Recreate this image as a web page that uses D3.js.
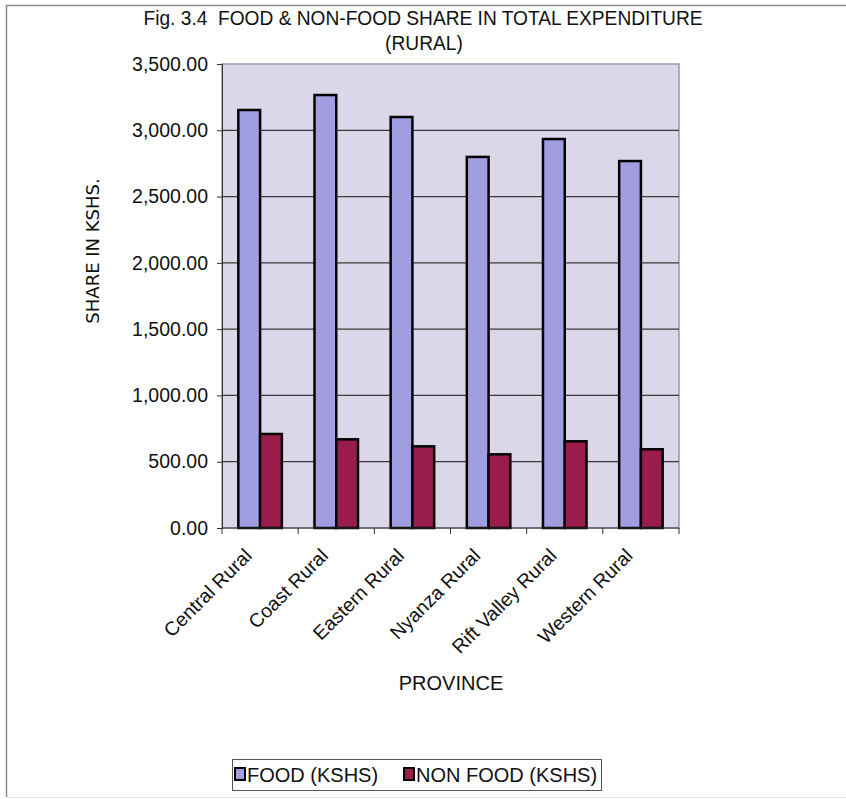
<!DOCTYPE html>
<html><head><meta charset="utf-8">
<script src="https://cdn.jsdelivr.net/npm/d3@7"></script>
<style>body{margin:0;background:#fff}svg{display:block}</style>
</head><body>
<script>
const categories = ["Central Rural","Coast Rural","Eastern Rural","Nyanza Rural","Rift Valley Rural","Western Rural"];
const seriesNames = ["FOOD (KSHS)","NON FOOD (KSHS)"];
const food = [3153, 3266, 3100, 2799, 2934, 2768];
const nonFood = [709, 669, 616, 556, 654, 594];
const yTicks = [0,500,1000,1500,2000,2500,3000,3500];
const colors = ["#a09ee1","#9a1c4c"];

const W=846,H=799;
const svg=d3.select("body").append("svg").attr("width",W).attr("height",H);
svg.append("rect").attr("width",W).attr("height",H).attr("fill","#fff");
// frame
svg.append("path").attr("d","M6.5,797 L6.5,5.5 L846,5.5").attr("fill","none").attr("stroke","#8a8a8a").attr("stroke-width",1.5);
svg.append("line").attr("x1",6).attr("x2",846).attr("y1",797.5).attr("y2",797.5).attr("stroke","#e4e4e4");

const m={l:222,r:679,t:64,b:528};
const x=d3.scaleBand().domain(categories).range([m.l,m.r]).paddingInner(0).paddingOuter(0);
const y=d3.scaleLinear().domain([0,3500]).range([m.b,m.t]);
const bw = x.bandwidth()/3.5;
const x1=d3.scaleBand().domain(seriesNames).range([0.75*bw,2.75*bw]);

svg.append("rect").attr("x",m.l).attr("y",m.t).attr("width",m.r-m.l).attr("height",m.b-m.t)
  .attr("fill","#dbd7e8").attr("stroke","#9a96b8").attr("stroke-width",1.5);

// grid
svg.append("g").selectAll("line").data(yTicks.filter(d=>d>0&&d<3500)).join("line")
  .attr("x1",m.l).attr("x2",m.r).attr("y1",d=>y(d)).attr("y2",d=>y(d))
  .attr("stroke","#3a3a3a").attr("stroke-width",1.2);

// bars
const data = categories.map((c,i)=>({c, vals:[food[i],nonFood[i]]}));
const g=svg.append("g");
data.forEach(d=>{
  d.vals.forEach((v,j)=>{
    g.append("rect").attr("x",x(d.c)+x1(seriesNames[j])).attr("y",y(v))
     .attr("width",x1.bandwidth()).attr("height",y(0)-y(v))
     .attr("fill",colors[j]).attr("stroke","#000").attr("stroke-width",2.5);
  });
});

const sans="Liberation Sans, Arial, sans-serif";
// y axis
const ya=d3.axisLeft(y).tickValues(yTicks).tickSize(5).tickFormat(d3.format(",.2f"));
const yg=svg.append("g").attr("transform",`translate(${m.l},0)`).call(ya);
yg.attr("font-size",null).attr("font-family",null);
yg.select(".domain").attr("stroke","#333");
yg.selectAll(".tick line").attr("stroke","#333");
yg.selectAll("text").attr("font-family",sans).attr("font-size",19.5).attr("fill","#111").attr("x",-14);

// x axis
const xg=svg.append("g").attr("transform",`translate(0,${m.b})`);
xg.append("line").attr("x1",m.l).attr("x2",m.r).attr("stroke","#333");
xg.selectAll("line.tk").data(categories.concat(["__end"])).join("line").attr("class","tk")
  .attr("x1",(d,i)=>m.l+i*x.bandwidth()).attr("x2",(d,i)=>m.l+i*x.bandwidth())
  .attr("y1",0).attr("y2",6).attr("stroke","#333");

svg.append("g").selectAll("text").data(categories).join("text")
  .attr("transform",d=>`translate(${x(d)+x.bandwidth()/2-7},${m.b+29}) rotate(-45)`)
  .attr("text-anchor","end")
  .attr("font-family",sans).attr("font-size",19.5).attr("fill","#111")
  .text(d=>d);

// titles (condensed like Arial Narrow)
const tg=svg.append("g").attr("transform","translate(423,0) scale(0.935,1)");
tg.append("text").attr("x",0).attr("y",25).attr("text-anchor","middle").attr("font-family",sans).attr("font-size",20.5).attr("fill","#111")
  .style("white-space","pre")
  .text("Fig. 3.4  FOOD & NON-FOOD SHARE IN TOTAL EXPENDITURE");
tg.append("text").attr("x",1).attr("y",50).attr("text-anchor","middle").attr("font-family",sans).attr("font-size",20.5).attr("fill","#111")
  .text("(RURAL)");
svg.append("text").attr("transform","translate(99,251) rotate(-90)").attr("text-anchor","middle")
  .attr("font-family","DejaVu Sans, Verdana, sans-serif").attr("font-size",18).attr("fill","#111").text("SHARE IN KSHS.");
svg.append("text").attr("x",451).attr("y",690).attr("text-anchor","middle")
  .attr("font-family",sans).attr("font-size",20).attr("fill","#111").text("PROVINCE");

// legend
const lg=svg.append("g");
lg.append("rect").attr("x",232.5).attr("y",759.5).attr("width",369).attr("height",31).attr("fill","#fff").attr("stroke","#555");
const items=[{n:seriesNames[0],c:colors[0],x:235},{n:seriesNames[1],c:colors[1],x:404}];
items.forEach(it=>{
  lg.append("rect").attr("x",it.x).attr("y",768).attr("width",10).attr("height",12).attr("fill",it.c).attr("stroke","#000").attr("stroke-width",2);
  lg.append("text").attr("x",it.x+12).attr("y",782).attr("font-family",sans).attr("font-size",20).attr("fill","#111").text(it.n);
});
</script>
</body></html>
